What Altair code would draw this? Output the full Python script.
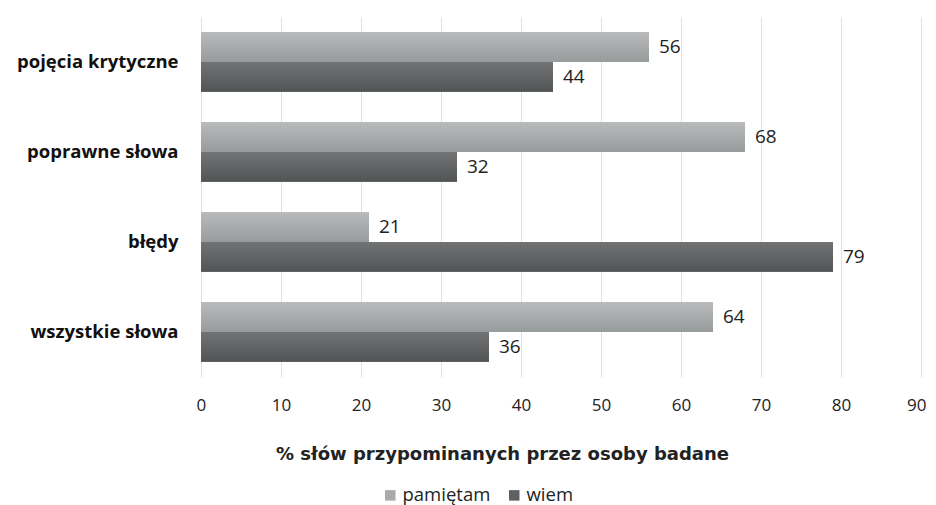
import altair as alt
import pandas as pd

categories = ["pojęcia krytyczne", "poprawne słowa", "błędy", "wszystkie słowa"]
series = ["pamiętam", "wiem"]
pamietam = [56, 68, 21, 64]
wiem = [44, 32, 79, 36]

rows = []
for c, p, w in zip(categories, pamietam, wiem):
    rows.append({"kat": c, "seria": "pamiętam", "val": p})
    rows.append({"kat": c, "seria": "wiem", "val": w})
df = pd.DataFrame(rows)

FONT = "Open Sans"

y_enc = alt.Y("kat:N", sort=categories, title=None,
              scale=alt.Scale(paddingInner=0.34, paddingOuter=0.17),
              axis=alt.Axis(labelFont=FONT, labelFontSize=18.5, labelFontWeight="bold",
                            labelColor="#111111", labelPadding=23, domain=False,
                            ticks=False, grid=False))
x_enc = alt.X("val:Q", title="% słów przypominanych przez osoby badane",
              scale=alt.Scale(domain=[0, 90], nice=False),
              axis=alt.Axis(values=list(range(0, 100, 10)), labelFont=FONT,
                            labelFontSize=17, labelColor="#222222", labelPadding=20,
                            labelFlush=True, labelFlushOffset=5,
                            domain=False, ticks=False, gridColor="#dde1e7",
                            gridWidth=1, titleFont="DejaVu Sans", titleFontSize=18,
                            titleFontWeight="bold", titleColor="#222222",
                            titlePadding=32, titleX=301, titleAlign="center",
                            titleAnchor="start"))
yoff = alt.YOffset("seria:N", scale=alt.Scale(domain=series))

base = alt.Chart(df).encode(y=y_enc, yOffset=yoff, x=x_enc)

flat = base.mark_bar().encode(
    color=alt.Color("seria:N",
                    scale=alt.Scale(domain=series, range=["#a8aaab", "#5e6062"]),
                    legend=alt.Legend(title=None, orient="none", direction="horizontal",
                                      legendX=180, legendY=469, symbolType="square",
                                      symbolSize=110, symbolStrokeWidth=0,
                                      labelFont=FONT, labelFontSize=18.5,
                                      labelColor="#222222", columnPadding=14,
                                      labelOffset=3)),
)

def grad(top, bottom):
    return alt.Gradient(gradient="linear", x1=0, y1=0, x2=0, y2=1,
                        stops=[alt.GradientStop(color=top, offset=0),
                               alt.GradientStop(color=bottom, offset=1)])

light = base.transform_filter(alt.datum.seria == "pamiętam").mark_bar(
    fill=grad("#b8babb", "#989b9c"))
dark = base.transform_filter(alt.datum.seria == "wiem").mark_bar(
    fill=grad("#727375", "#515455"))

labels = base.mark_text(align="left", baseline="middle", dx=10, font=FONT,
                        fontSize=19, color="#222222").encode(text="val:Q")

chart = alt.layer(flat, light, dark, labels).properties(
    width=720, height=360,
    background="white",
    autosize=alt.AutoSizeParams(type="none"),
    padding={"left": 193, "top": 9, "right": 7, "bottom": 128},
).configure_view(stroke="transparent", strokeWidth=0)

chart.save("out.html", embed_options={"renderer": "svg", "actions": False})
